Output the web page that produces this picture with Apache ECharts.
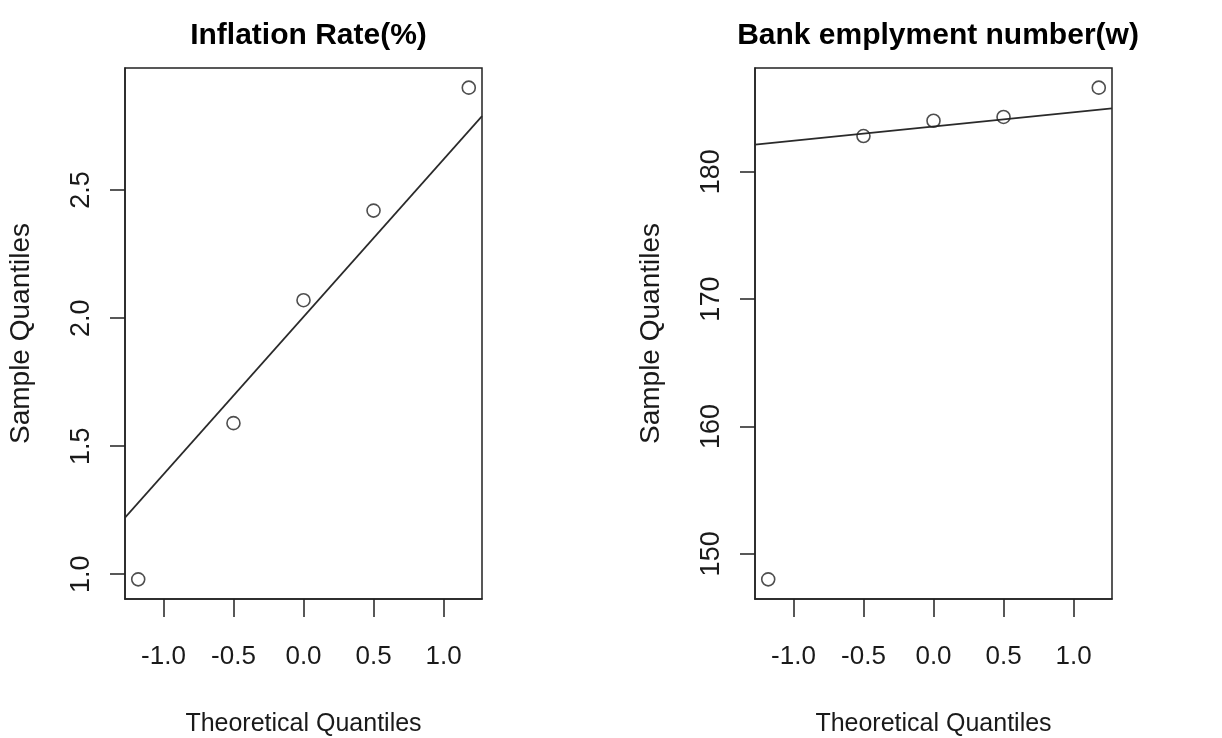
<!DOCTYPE html>
<html>
<head>
<meta charset="utf-8">
<script src="https://cdn.jsdelivr.net/npm/echarts@6/dist/echarts.min.js"></script>
<style>
html,body{margin:0;padding:0;background:#fff;overflow:hidden;}
#chart{width:1222px;height:738px;}
</style>
</head>
<body>
<div id="chart"></div>
<script>
// Theoretical normal quantiles (n = 5)
const theoretical = [-1.18, -0.50, 0.0, 0.50, 1.18];
// Sample quantiles (sorted data)
const inflation = [0.98, 1.59, 2.07, 2.42, 2.90];
const bankEmployment = [148.0, 182.8, 184.0, 184.3, 186.6];
// Tick labels
const xTicks = [-1.0, -0.5, 0.0, 0.5, 1.0];
const inflTicks = [1.0, 1.5, 2.0, 2.5];
const bankTicks = [150, 160, 170, 180];
const titles = ['Inflation Rate(%)', 'Bank emplyment number(w)'];

const FONT = '"Liberation Sans", Arial, Helvetica, sans-serif';
const INK = '#1a1a1a';

function ext(arr) {
  const lo = Math.min(...arr), hi = Math.max(...arr);
  const d = (hi - lo) * 0.04;
  return [lo - d, hi + d];
}
// qqline: line through 1st and 3rd quartiles
function qqline(y, xr) {
  const s = y.slice().sort((a, b) => a - b);
  const q1 = s[1], q3 = s[3];
  const z = 0.6744898;
  const slope = (q3 - q1) / (2 * z);
  const icpt = q1 + slope * z;
  return [[xr[0], icpt + slope * xr[0]], [xr[1], icpt + slope * xr[1]]];
}

const xr = ext(theoretical);
const panels = [
  { y: inflation, ticks: inflTicks, fmt: v => v.toFixed(1), left: 125, center: 303.5 },
  { y: bankEmployment, ticks: bankTicks, fmt: v => String(Math.round(v)), left: 755, center: 933 }
];

const option = {
  backgroundColor: '#fff',
  animation: false,
  title: panels.map((p, i) => ({
    text: titles[i],
    left: p.center, top: 16, textAlign: 'center',
    textStyle: { fontFamily: FONT, fontWeight: 'bold', fontSize: 30, color: '#000' }
  })),
  grid: panels.map(p => ({
    left: p.left, top: 68, width: 357, height: 531,
    outerBoundsMode: 'none', containLabel: false,
    show: true, borderColor: '#222', borderWidth: 1.5, backgroundColor: 'transparent'
  })),
  xAxis: panels.map((p, i) => ({
    type: 'value', gridIndex: i, min: xr[0], max: xr[1],
    name: 'Theoretical Quantiles', nameLocation: 'middle', nameGap: 113,
    nameTextStyle: { fontFamily: FONT, fontSize: 25, color: INK },
    axisLine: { show: true, onZero: false, lineStyle: { color: '#222', width: 1.5 } },
    axisTick: { show: true, length: 18, customValues: xTicks, lineStyle: { color: '#222', width: 1.5 } },
    axisLabel: { show: true, customValues: xTicks, margin: 45, formatter: v => v.toFixed(1),
      fontFamily: FONT, fontSize: 26, color: INK },
    splitLine: { show: false }
  })),
  yAxis: panels.map((p, i) => {
    const yr = ext(p.y);
    return {
      type: 'value', gridIndex: i, min: yr[0], max: yr[1],
      name: 'Sample Quantiles', nameLocation: 'middle', nameGap: 90,
      nameTextStyle: { fontFamily: FONT, fontSize: 28, color: INK },
      axisLine: { show: true, onZero: false, lineStyle: { color: '#222', width: 1.5 } },
      axisTick: { show: true, length: 15, customValues: p.ticks, lineStyle: { color: '#222', width: 1.5 } },
      axisLabel: { show: true, customValues: p.ticks, rotate: 90, margin: 30, formatter: p.fmt,
        fontFamily: FONT, fontSize: 27, color: INK },
      splitLine: { show: false }
    };
  }),
  series: panels.flatMap((p, i) => [
    {
      type: 'line', xAxisIndex: i, yAxisIndex: i, data: qqline(p.y, xr),
      symbol: 'none', lineStyle: { color: '#2a2a2a', width: 1.7 }, z: 2, clip: true
    },
    {
      type: 'scatter', xAxisIndex: i, yAxisIndex: i,
      data: theoretical.map((x, k) => [x, p.y[k]]),
      symbol: 'circle', symbolSize: 13,
      itemStyle: { color: 'rgba(0,0,0,0)', borderColor: '#222', borderWidth: 1.6 }, z: 3
    }
  ])
};

const chart = echarts.init(document.getElementById('chart'), null, { renderer: 'canvas' });
chart.setOption(option);
</script>
</body>
</html>
